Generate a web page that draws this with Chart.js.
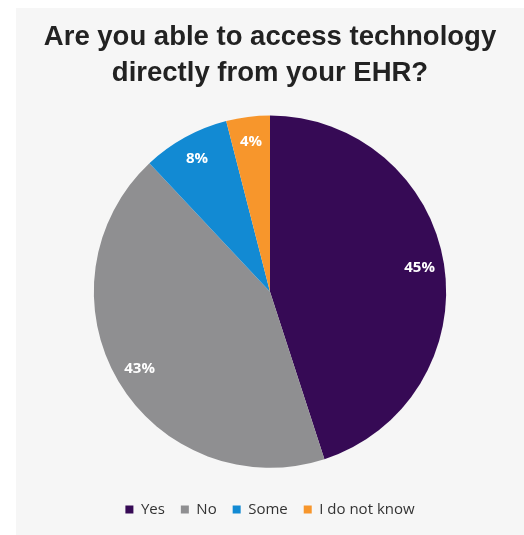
<!DOCTYPE html>
<html>
<head>
<meta charset="utf-8">
<script src="https://cdn.jsdelivr.net/npm/chart.js@4/dist/chart.umd.min.js"></script>
<style>
	html, body { margin: 0; padding: 0; background: #ffffff; }
	#wrap {
		position: absolute;
		left: 16px;
		top: 8px;
		width: 508px;
		height: 527px;
		background: #f6f6f6;
	}
</style>
</head>
<body>
<div id="wrap"><canvas id="ehr-chart"></canvas></div>
<script>
const labels = ['Yes', 'No', 'Some', 'I do not know'];
const shares = [45, 43, 8, 4];
const colors = ['#360a55', '#8f8f91', '#128ad3', '#f7962c'];

// white percentage labels inside each slice
const sliceLabels = {
	id: 'sliceLabels',
	afterDatasetsDraw(chart) {
		const ctx = chart.ctx;
		const meta = chart.getDatasetMeta(0);
		ctx.save();
		ctx.fillStyle = '#ffffff';
		ctx.font = 'bold 15px "Open Sans"';
		ctx.textAlign = 'center';
		ctx.textBaseline = 'middle';
		meta.data.forEach((arc, i) => {
			const p = arc.getProps(['x', 'y', 'startAngle', 'endAngle', 'outerRadius'], true);
			const mid = (p.startAngle + p.endAngle) / 2;
			const r = p.outerRadius * 0.86;
			ctx.fillText(shares[i] + '%', p.x + Math.cos(mid) * r, p.y + Math.sin(mid) * r);
		});
		ctx.restore();
	},
};

const ctx = document.getElementById('ehr-chart').getContext('2d');
new Chart(ctx, {
	type: 'pie',
	data: {
		labels: labels,
		datasets: [
			{
				data: shares,
				backgroundColor: colors,
				borderWidth: 0,
			},
		],
	},
	options: {
		responsive: true,
		maintainAspectRatio: false,
		animation: false,
		layout: {
			padding: { top: 0, bottom: 8, left: 0, right: 0 },
		},
		plugins: {
			title: {
				display: true,
				text: ['Are you able to access technology', 'directly from your EHR?'],
				color: '#222222',
				font: { family: '"Liberation Sans", Arial, sans-serif', size: 27.5, weight: 'bold', lineHeight: 1.3 },
				padding: { top: 12, bottom: 24 },
			},
			legend: {
				position: 'bottom',
				// empty title only used as a gap between pie and legend
				title: {
					display: true,
					text: ' ',
					font: { size: 1 },
					padding: { top: 0, bottom: 17 },
				},
				labels: {
					color: '#333333',
					boxWidth: 8,
					boxHeight: 8,
					padding: 16,
					font: { family: '"Open Sans", sans-serif', size: 15 },
				},
			},
			tooltip: { enabled: false },
		},
	},
	plugins: [sliceLabels],
});
</script>
</body>
</html>
